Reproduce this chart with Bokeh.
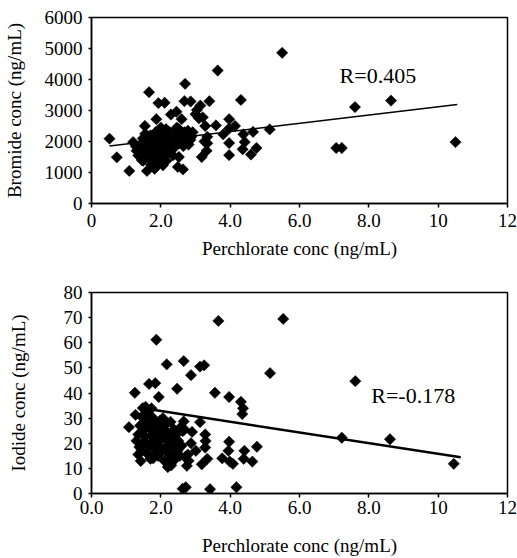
import math
from bokeh.plotting import figure
from bokeh.layouts import column
from bokeh.models import Range1d, FixedTicker, Label
from bokeh.embed import file_html
from bokeh.resources import INLINE

# ---------------- data: top panel (bromide) ----------------
perchlorate_br = [
    0.52, 0.73, 1.09, 1.66, 1.54, 1.93, 2.11, 1.87, 2.70, 2.45, 2.29, 2.68, 2.86, 2.60,
    3.04, 3.14, 3.40, 3.64, 3.00, 3.21, 3.28, 3.59, 4.31, 3.97, 4.14, 3.97, 3.80, 3.34,
    4.38, 4.42, 4.36, 4.66, 4.76, 4.60, 3.97, 3.97, 3.34, 3.32, 3.18, 5.14, 5.50, 7.06,
    7.22, 7.60, 8.64, 10.50, 3.26, 3.10,
    1.20, 1.28, 1.35, 1.35, 1.40, 1.42, 1.45, 1.49, 1.50, 1.52, 1.55, 1.55, 1.58, 1.60,
    1.62, 1.65, 1.68, 1.70, 1.72, 1.74, 1.75, 1.78, 1.80, 1.82, 1.83, 1.85, 1.88, 1.90,
    1.92, 1.95, 1.97, 2.00, 2.02, 2.05, 2.06, 2.08, 2.10, 2.12, 2.15, 2.16, 2.18, 2.20,
    2.22, 2.25, 2.28, 2.32, 2.35, 2.38, 2.40, 2.42, 2.44, 2.46, 2.49, 2.50, 2.52, 2.52,
    2.55, 2.58, 2.62, 2.64, 2.65, 2.68, 2.70, 2.72, 2.75, 2.78, 2.80, 2.83, 2.85, 2.88,
    2.92, 1.48, 1.60, 1.30, 1.75, 2.00, 1.95,
]
bromide = [
    2090, 1490, 1050, 3590, 2500, 3240, 3250, 2720, 3860, 2960, 2870, 3300, 3290, 2720,
    3020, 3160, 3300, 4290, 2880, 2780, 2500, 2520, 3340, 2720, 2500, 2420, 2230, 2150,
    2230, 1980, 1750, 2310, 1790, 1580, 1950, 1560, 1940, 1700, 1500, 2390, 4860, 1790,
    1790, 3110, 3320, 1980, 2000, 2750,
    1980, 1850, 1780, 1550, 1650, 1900, 1400, 1380, 1750, 2050, 2250, 1600, 1850, 2150,
    1950, 1700, 1500, 2200, 1250, 1800, 2050, 1600, 1180, 1120, 1950, 2300, 1700, 1450,
    2100, 1850, 1600, 2450, 2000, 1300, 1230, 1750, 2250, 1550, 2400, 1380, 1900, 2100,
    1700, 2300, 1950, 2200, 1550, 2050, 1820, 2350, 1870, 2450, 1180, 2150, 1500, 2400,
    1950, 2250, 2100, 1100, 1850, 2300, 2050, 1950, 2200, 2350, 1900, 2250, 2050, 2150,
    2300, 2100, 1050, 1700, 1400, 1550, 1300,
]
trend_br_x = [0.52, 10.55]
trend_br_y = [1854, 3194]

# ---------------- data: bottom panel (iodide) ----------------
perchlorate_io = [
    1.08, 1.25, 1.27, 1.87, 1.66, 1.84, 1.94, 2.17, 2.66, 2.47, 2.87, 3.13, 3.25, 3.66,
    5.53, 5.15, 7.61, 3.56, 3.97, 4.31, 4.37, 4.35, 1.56, 1.73, 1.42, 1.78, 2.63, 2.72,
    3.42, 4.18, 3.97, 3.95, 3.77, 3.99, 4.08, 4.41, 4.39, 4.64, 4.77, 3.13, 3.28, 3.29,
    3.28, 3.18, 3.34, 7.22, 8.61, 10.45, 2.90, 2.87, 3.01, 2.78, 2.80, 2.75, 2.70, 2.66,
    2.68, 2.30, 2.23, 2.17,
    1.30, 1.35, 1.38, 1.40, 1.45, 1.45, 1.50, 1.52, 1.55, 1.58, 1.60, 1.62, 1.65, 1.68,
    1.70, 1.72, 1.75, 1.78, 1.80, 1.82, 1.85, 1.88, 1.90, 1.92, 1.95, 1.98, 2.00, 2.03,
    2.06, 2.08, 2.10, 2.12, 2.15, 2.18, 2.20, 2.22, 2.25, 2.28, 2.30, 2.33, 2.35, 2.38,
    2.40, 2.42, 2.45, 2.48, 2.50, 2.55, 2.58, 2.60, 2.63, 1.48, 1.35, 2.05, 1.75,
]
iodide = [
    26.4, 40.1, 31.3, 61.2, 43.6, 43.9, 38.4, 51.4, 52.7, 41.7, 47.1, 50.5, 51.0, 68.7,
    69.5, 47.9, 44.7, 40.1, 38.4, 36.5, 33.9, 31.6, 34.5, 33.9, 12.9, 14.0, 1.9, 2.5,
    1.7, 2.5, 20.6, 17.0, 14.0, 12.7, 11.8, 17.0, 13.8, 12.7, 18.6, 28.4, 23.5, 20.9,
    18.3, 11.6, 13.8, 22.2, 21.6, 11.8, 24.5, 20.0, 17.0, 15.5, 13.0, 11.0, 14.5, 28.7,
    25.5, 11.2, 12.9, 17.0,
    21.0, 23.5, 18.5, 27.0, 17.1, 30.5, 25.0, 20.5, 22.5, 28.0, 16.0, 32.0, 19.0, 26.0,
    13.8, 23.0, 29.5, 30.0, 21.0, 17.5, 25.0, 27.5, 19.5, 15.0, 23.0, 29.0, 21.5, 17.0,
    30.0, 25.5, 13.0, 22.0, 27.5, 19.0, 10.5, 24.0, 15.5, 28.5, 20.0, 22.5, 16.5, 25.5,
    13.5, 19.5, 23.5, 17.0, 21.0, 15.0, 26.5, 19.0, 24.8, 34.0, 15.5, 27.0, 20.0,
]
trend_io_x = [1.68, 10.65]
trend_io_y = [33.5, 14.4]

x_ticks = [0, 2, 4, 6, 8, 10, 12]
x_labels_top = ["0", "2.0", "4.0", "6.0", "8.0", "10", "12"]
x_labels_bottom = ["0.0", "2.0", "4.0", "6.0", "8.0", "10", "12"]
y_ticks_top = [0, 1000, 2000, 3000, 4000, 5000, 6000]
y_ticks_bottom = [0, 10, 20, 30, 40, 50, 60, 70, 80]

FONT = "Liberation Serif"


def style(p, xlabels, x_label_standoff, x_tick_standoff, y_label_standoff):
    p.grid.visible = False
    p.outline_line_color = "black"
    p.outline_line_width = 1.5
    p.background_fill_color = "white"
    p.border_fill_color = "white"
    for ax in (p.xaxis[0], p.yaxis[0]):
        ax.axis_line_color = "black"
        ax.axis_line_width = 1.5
        ax.major_tick_line_color = "black"
        ax.major_tick_line_width = 1.5
        ax.major_tick_in = 0
        ax.minor_tick_line_color = None
        ax.major_label_text_font = FONT
        ax.major_label_text_font_size = "19px"
        ax.major_label_text_color = "black"
        ax.axis_label_text_font = FONT
        ax.axis_label_text_font_size = "19px"
        ax.axis_label_text_font_style = "normal"
        ax.axis_label_text_color = "black"
    xa = p.xaxis[0]
    xa.ticker = FixedTicker(ticks=x_ticks)
    xa.major_label_overrides = {t: l for t, l in zip(x_ticks, xlabels)}
    xa.major_tick_out = 4
    xa.major_label_standoff = x_tick_standoff
    xa.axis_label_standoff = x_label_standoff
    ya = p.yaxis[0]
    ya.major_tick_out = 3
    ya.major_label_standoff = 6
    ya.axis_label_standoff = y_label_standoff


# ---------------- top figure ----------------
p1 = figure(width=517, height=270, x_range=Range1d(0, 12), y_range=Range1d(0, 6000),
            output_backend="svg", toolbar_location=None,
            min_border_left=88, min_border_right=10, min_border_top=17, min_border_bottom=67,
            x_axis_label="Perchlorate conc (ng/mL)", y_axis_label="Bromide conc (ng/mL)")
style(p1, x_labels_top, 8, 6, 17)
p1.yaxis[0].ticker = FixedTicker(ticks=y_ticks_top)
p1.scatter(perchlorate_br, bromide, marker="square", angle=math.pi / 4, size=8,
           fill_color="black", line_color="black", line_width=0.5)
p1.line(trend_br_x, trend_br_y, line_color="black", line_width=1.5)
p1.add_layout(Label(x=8.26, y=4130, text="R=0.405", text_font=FONT, text_font_size="22px",
                    text_align="center", text_baseline="middle", text_color="black"))

# ---------------- bottom figure ----------------
p2 = figure(width=517, height=288, x_range=Range1d(0, 12), y_range=Range1d(0, 80),
            output_backend="svg", toolbar_location=None,
            min_border_left=86, min_border_right=10, min_border_top=22, min_border_bottom=61,
            x_axis_label="Perchlorate conc (ng/mL)", y_axis_label="Iodide conc (ng/mL)")
style(p2, x_labels_bottom, 18, 3, 32)
p2.yaxis[0].ticker = FixedTicker(ticks=y_ticks_bottom)
p2.scatter(perchlorate_io, iodide, marker="square", angle=math.pi / 4, size=8,
           fill_color="black", line_color="black", line_width=0.5)
p2.line(trend_io_x, trend_io_y, line_color="black", line_width=2.5)
p2.add_layout(Label(x=9.28, y=38.9, text="R=-0.178", text_font=FONT, text_font_size="22px",
                    text_align="center", text_baseline="middle", text_color="black"))

layout = column(p1, p2, spacing=0)
open("out.html", "w").write(file_html(layout, INLINE))
